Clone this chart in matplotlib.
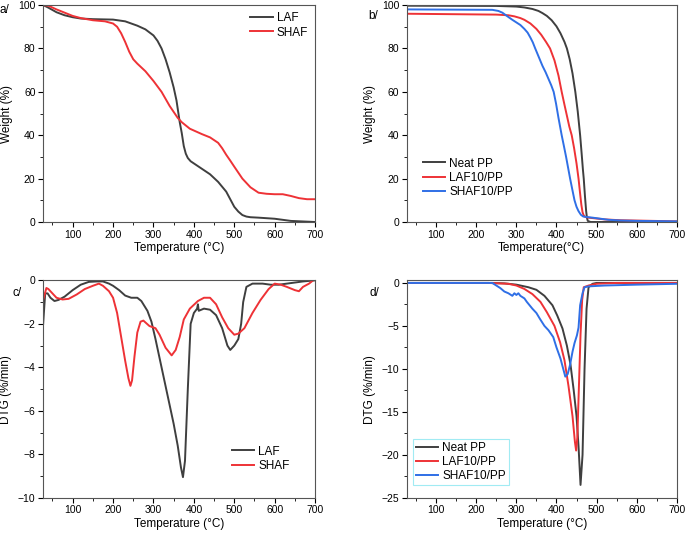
import matplotlib.pyplot as plt
from matplotlib.ticker import MultipleLocator

plt.rcParams['font.family'] = ['Liberation Sans', 'DejaVu Sans']

DARK = '#3f3f3f'
RED = '#ee3236'
BLUE = '#2f6fe6'

# ---- a/ TGA of fibres
a_laf_t = [27, 40, 60, 80, 100, 120, 150, 200, 230, 260, 280, 300, 310, 320, 330, 340, 350, 357,
           365, 370, 375, 380, 385, 392, 400, 420, 440, 460, 480, 500, 510, 520, 530, 540, 560,
           600, 640, 700]
a_laf_w = [100, 98.8, 96.7, 95.3, 94.4, 93.8, 93.5, 93.3, 92.5, 90.5, 88.8, 86, 83.5, 80, 75, 69,
           62, 56, 46, 41, 35, 31.5, 29.5, 28, 27, 24.5, 22, 18.5, 14, 7, 4.8, 3.2, 2.5, 2.2, 2,
           1.5, 0.5, 0]
a_shaf_t = [27, 40, 60, 80, 100, 120, 150, 180, 200, 210, 220, 230, 240, 250, 260, 280, 300, 320,
            340, 360, 370, 390, 420, 440, 460, 470, 480, 490, 500, 520, 540, 560, 580, 600, 620,
            640, 660, 680, 700]
a_shaf_w = [100, 99.7, 98, 96.5, 95, 94, 93, 92.5, 91.5, 90, 87, 83, 78.5, 75, 73, 69.5, 65, 60,
            53.5, 48, 46, 43, 40.5, 39, 36.5, 34, 31, 28.3, 25.5, 20, 16, 13.5, 13, 12.8, 12.8,
            12, 11, 10.5, 10.5]

# ---- b/ TGA of composites
b_pp_t = [27, 250, 300, 320, 340, 355, 365, 376, 388, 400, 410, 420, 426, 433, 440, 447, 453,
          459, 463, 466, 468, 471, 474, 476, 478, 485, 700]
b_pp_w = [99.7, 99.6, 99.3, 98.9, 98.2, 97.3, 96.3, 95, 93, 90.2, 87, 83, 80, 75, 68.5, 60, 51,
          40, 31, 24, 20, 12, 5, 2, 0.5, 0, 0]
b_laf_t = [27, 250, 280, 295, 310, 320, 335, 350, 362, 374, 384, 395, 405, 413, 420, 426, 432,
           438, 444, 450, 455, 459, 462, 465, 468, 472, 480, 500, 520, 560, 700]
b_laf_w = [96, 95.6, 95.3, 94.8, 94, 93.2, 91.5, 89, 86.3, 83, 80, 74.5, 67.5, 60, 54, 49, 44,
           40, 34, 27, 20, 13, 8, 4.5, 3, 2.3, 2, 1.6, 1.2, 0.8, 0.3]
b_shaf_t = [27, 240, 255, 265, 280, 290, 300, 310, 320, 328, 335, 341, 347, 356, 365, 373, 380,
            387, 393, 399, 405, 409, 413, 418, 424, 429, 434, 440, 445, 450, 455, 461, 467, 480,
            490, 510, 530, 560, 600, 700]
b_shaf_w = [98, 97.8, 97.3, 96.5, 94.5, 93.2, 92, 90.8, 89, 87.3, 85, 82.8, 80, 76, 72, 69, 66,
            63, 60, 54.5, 48, 44, 40, 35.5, 30, 25, 20, 14.5, 10, 7, 5, 3.3, 2.5, 2.2, 2, 1.5,
            1, 0.7, 0.5, 0.3]

# ---- c/ DTG of fibres
c_laf_t = [27, 32, 38, 45, 55, 65, 80, 100, 120, 140, 160, 175, 190, 200, 215, 230, 245, 260,
           270, 285, 295, 305, 320, 335, 350, 360, 368, 373, 378, 385, 392, 400, 408, 410, 412,
           425, 440, 455, 470, 483, 490, 500, 510, 517, 522, 530, 545, 570, 590, 610, 630, 650, 670, 700]
c_laf_d = [-2.0, -0.6, -0.6, -0.8, -0.95, -0.9, -0.75, -0.45, -0.2, -0.07, -0.05, -0.05, -0.15,
           -0.25, -0.45, -0.7, -0.8, -0.8, -0.95, -1.4, -1.9, -2.7, -4.0, -5.3, -6.6, -7.6, -8.6,
           -9.05, -8.3, -5.0, -2.0, -1.5, -1.3, -1.1, -1.4, -1.3, -1.35, -1.6, -2.2, -3.0, -3.2,
           -3.0, -2.7, -2.0, -1.0, -0.3, -0.15, -0.15, -0.2, -0.2, -0.15, -0.1, -0.05, 0]
c_shaf_t = [27, 35, 40, 50, 60, 75, 90, 110, 130, 150, 165, 175, 190, 200, 210, 220, 230, 238,
            243, 247, 253, 260, 268, 275, 290, 305, 315, 330, 345, 355, 365, 375, 390, 410, 425,
            440, 455, 470, 485, 500, 510, 525, 545, 565, 585, 600, 615, 630, 650, 660, 670, 685, 695]
c_shaf_d = [-0.9, -0.35, -0.4, -0.6, -0.8, -0.88, -0.85, -0.65, -0.4, -0.25, -0.15, -0.25, -0.5,
            -0.8, -1.5, -2.6, -3.7, -4.5, -4.85, -4.6, -3.5, -2.4, -1.9, -1.85, -2.1, -2.2, -2.5,
            -3.1, -3.45, -3.2, -2.6, -1.8, -1.3, -0.95, -0.8, -0.8, -1.1, -1.7, -2.2, -2.5, -2.45,
            -2.2, -1.5, -0.9, -0.4, -0.15, -0.2, -0.3, -0.45, -0.5, -0.3, -0.15, 0]

# ---- d/ DTG of composites
d_pp_t = [27, 230, 270, 300, 330, 350, 370, 390, 402, 415, 426, 435, 443, 450, 455, 460, 465,
          470, 475, 480, 490, 500, 700]
d_pp_d = [0, 0, -0.05, -0.2, -0.5, -0.8, -1.5, -2.6, -3.8, -5.3, -7.3, -9.5, -12.5, -15.5,
          -19, -23.5, -20, -10, -3, -0.5, -0.1, 0, 0]
d_laf_t = [27, 230, 280, 300, 320, 340, 360, 376, 395, 409, 420, 430, 440, 446, 449, 452, 456,
           460, 464, 468, 480, 500, 550, 700]
d_laf_d = [0, 0, -0.1, -0.3, -0.7, -1.3, -2.2, -3.4, -5.0, -6.9, -9, -12, -15.5, -18.5, -19.5,
           -18, -12, -6, -2, -0.5, -0.3, -0.1, 0, 0]
d_shaf_t = [27, 240, 250, 260, 270, 280, 290, 295, 300, 305, 310, 320, 326, 340, 350, 359, 370,
            380, 392, 400, 410, 418, 422, 428, 434, 440, 445, 451, 455, 459, 465, 470, 480, 520, 600, 700]
d_shaf_d = [0, 0, -0.3, -0.6, -1.0, -1.2, -1.5, -1.2, -1.4, -1.2, -1.5, -1.8, -2.2, -3.0, -3.5,
            -4.2, -5.0, -5.5, -6.3, -7.5, -8.8, -10.2, -10.9, -10.6, -9.5, -8.0, -7.0, -6.1, -5.2,
            -2.6, -1.2, -0.5, -0.4, -0.3, -0.2, -0.1]

fig = plt.figure(figsize=(6.85, 5.33), dpi=100)
axa = fig.add_axes([0.063, 0.5835, 0.397, 0.407])
axb = fig.add_axes([0.594, 0.5835, 0.394, 0.407])
axc = fig.add_axes([0.063, 0.066, 0.397, 0.408])
axd = fig.add_axes([0.594, 0.066, 0.394, 0.408])

lw = 1.4
axa.plot(a_laf_t, a_laf_w, color=DARK, lw=lw, label='LAF')
axa.plot(a_shaf_t, a_shaf_w, color=RED, lw=lw, label='SHAF')
axb.plot(b_pp_t, b_pp_w, color=DARK, lw=lw, label='Neat PP')
axb.plot(b_laf_t, b_laf_w, color=RED, lw=lw, label='LAF10/PP')
axb.plot(b_shaf_t, b_shaf_w, color=BLUE, lw=lw, label='SHAF10/PP')
axc.plot(c_laf_t, c_laf_d, color=DARK, lw=lw, label='LAF')
axc.plot(c_shaf_t, c_shaf_d, color=RED, lw=lw, label='SHAF')
axd.plot(d_pp_t, d_pp_d, color=DARK, lw=lw, label='Neat PP')
axd.plot(d_laf_t, d_laf_d, color=RED, lw=lw, label='LAF10/PP')
axd.plot(d_shaf_t, d_shaf_d, color=BLUE, lw=lw, label='SHAF10/PP')

for ax in (axa, axb, axc, axd):
    ax.set_xlim(27, 700)
    ax.xaxis.set_major_locator(MultipleLocator(100))
    ax.xaxis.set_minor_locator(MultipleLocator(50))
    ax.tick_params(which='major', direction='out', length=3.5, width=0.8, labelsize=7.5, pad=2)
    ax.tick_params(which='minor', direction='out', length=2, width=0.6)
    for s in ax.spines.values():
        s.set_linewidth(0.8)
        s.set_color('#555555')

for ax in (axa, axb):
    ax.set_ylim(0, 100)
    ax.yaxis.set_major_locator(MultipleLocator(20))
    ax.yaxis.set_minor_locator(MultipleLocator(10))
    ax.set_ylabel('Weight (%)', fontsize=8.5, labelpad=4)
axa.set_xlabel('Temperature (°C)', fontsize=8.5, labelpad=2)
axb.set_xlabel('Temperature(°C)', fontsize=8.5, labelpad=2)

axc.set_ylim(-10, 0)
axc.yaxis.set_major_locator(MultipleLocator(2))
axc.yaxis.set_minor_locator(MultipleLocator(1))
axd.set_ylim(-25, 0.3)
axd.yaxis.set_major_locator(MultipleLocator(5))
axd.yaxis.set_minor_locator(MultipleLocator(2.5))
for ax in (axc, axd):
    ax.set_ylabel('DTG (%/min)', fontsize=8.5, labelpad=4)
    ax.set_xlabel('Temperature (°C)', fontsize=8.5, labelpad=2)

leg_kw = dict(fontsize=8.5, handlelength=1.9, handletextpad=0.35, labelspacing=0.2)
axa.legend(loc='upper right', frameon=False, borderaxespad=0.2, **leg_kw)
axb.legend(loc='lower left', frameon=False, bbox_to_anchor=(0.02, 0.06), **leg_kw)
axc.legend(loc='lower right', frameon=False, bbox_to_anchor=(0.945, 0.07), **leg_kw)
leg = axd.legend(loc='lower left', fancybox=False, bbox_to_anchor=(0.0, 0.03),
                 borderpad=0.25, **leg_kw)
leg.get_frame().set_edgecolor('#8ae6f0')
leg.get_frame().set_linewidth(0.8)

fig.text(0.0, 0.975, 'a/', fontsize=8.5)
fig.text(0.537, 0.965, 'b/', fontsize=8.5)
fig.text(0.018, 0.445, 'c/', fontsize=8.5)
fig.text(0.54, 0.445, 'd/', fontsize=8.5)

fig.savefig('out.png', dpi=100)
